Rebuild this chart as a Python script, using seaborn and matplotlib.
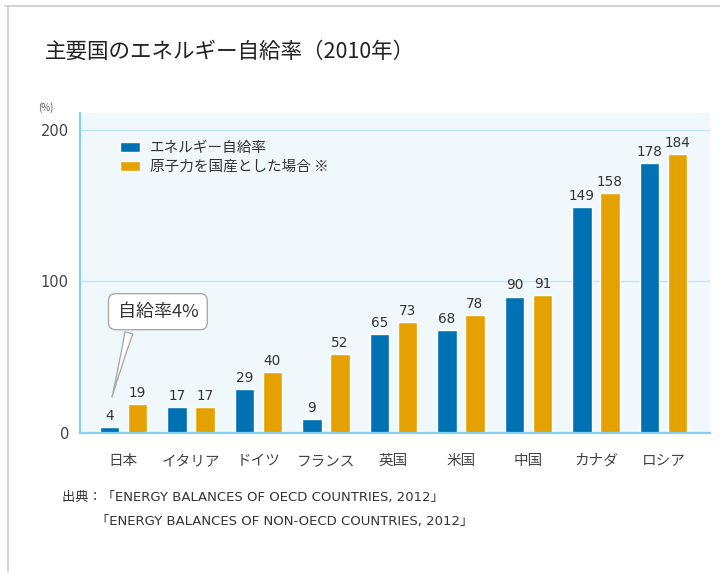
import matplotlib
matplotlib.use('Agg')
import matplotlib.pyplot as plt
import seaborn as sns
import pandas as pd
from matplotlib.lines import Line2D

# Données (2010)
countries = ['日本', 'イタリア', 'ドイツ', 'フランス', '英国', '米国', '中国', 'カナダ', 'ロシア']
self_rate = [4, 17, 29, 9, 65, 68, 90, 149, 178]
with_nuclear = [19, 17, 40, 52, 73, 78, 91, 158, 184]
series_names = ['エネルギー自給率', '原子力を国産とした場合 ※']
y_ticks = [0, 100, 200]

df = pd.DataFrame({'国': countries, series_names[0]: self_rate, series_names[1]: with_nuclear})
long_df = df.melt(id_vars='国', var_name='系列', value_name='値')

sns.set_theme(style='white')
plt.rcParams['font.family'] = ['Noto Sans CJK JP', 'DejaVu Sans']
num_font = ['DejaVu Sans', 'Noto Sans CJK JP']

blue = '#0071b2'
orange = '#e5a100'
grid_c = '#c4e7f7'
spine_c = '#86cfee'
text_c = '#333333'

fig = plt.figure(figsize=(7.2, 5.74), dpi=100)
ax = fig.add_axes([80 / 720, 1 - 433 / 574, 630 / 720, 320 / 574])

sns.barplot(data=long_df, x='国', y='値', hue='系列', order=countries,
            hue_order=series_names, palette=[blue, orange], width=0.83,
            gap=0.29, saturation=1, ax=ax, legend=True)

for cont in ax.containers:
    ax.bar_label(cont, padding=3, fontsize=9.8, color=text_c, family=num_font)

ax.set_facecolor('#f1f8fc')
ax.set_xlim(-0.644, 8.689)
ax.set_ylim(0, 211)
ax.set_yticks(y_ticks)
ax.set_yticklabels([str(v) for v in y_ticks], fontsize=10.5, color='#444444', family=num_font)
ax.tick_params(axis='y', length=0, pad=8)
ax.tick_params(axis='x', length=0, pad=15, labelsize=10.5, labelcolor='#444444')
ax.set_xlabel('')
ax.set_ylabel('')
for v in y_ticks[1:]:
    ax.axhline(v, color=grid_c, lw=1, zorder=0)
for s in ['top', 'right']:
    ax.spines[s].set_visible(False)
for s in ['left', 'bottom']:
    ax.spines[s].set_color(spine_c)
    ax.spines[s].set_linewidth(1.6)

ax.legend(loc='upper left', bbox_to_anchor=(120 / 720, 1 - 141 / 574),
          bbox_transform=fig.transFigure, frameon=False, fontsize=10.5,
          handlelength=1.35, handleheight=0.65, handletextpad=0.7,
          labelspacing=0.35, borderaxespad=0, borderpad=0, labelcolor=text_c)

# 吹き出し
ax.annotate('自給率4%', xy=(-0.18, 22), xytext=(0.51, 80),
            ha='center', va='center', fontsize=13, color=text_c,
            bbox=dict(boxstyle='round,pad=0.5,rounding_size=0.4', fc='white', ec='#aaaaaa', lw=1),
            arrowprops=dict(arrowstyle='wedge,tail_width=0.45,shrink_factor=0.4',
                            fc='white', ec='#aaaaaa', lw=1, relpos=(0.18, 0)))

fig.text(45 / 720, 1 - 52 / 574, '主要国のエネルギー自給率（2010年）', fontsize=15.5,
         color='#222222', va='center', ha='left')
fig.text(38 / 720, 1 - 108 / 574, '(%)', fontsize=7, color='#555555', va='center')
fig.text(62 / 720, 1 - 497 / 574, '出典：「ENERGY BALANCES OF OECD COUNTRIES, 2012」',
         fontsize=9.5, color=text_c, va='center', family=num_font)
fig.text(96 / 720, 1 - 522 / 574, '「ENERGY BALANCES OF NON-OECD COUNTRIES, 2012」',
         fontsize=9.5, color=text_c, va='center', family=num_font)

# 外枠
fig.add_artist(Line2D([8 / 720, 8 / 720], [0.005, 1 - 6 / 574], color='#cccccc', lw=1.2,
                      transform=fig.transFigure))
fig.add_artist(Line2D([5 / 720, 1], [1 - 6 / 574, 1 - 6 / 574], color='#cccccc', lw=1.2,
                      transform=fig.transFigure))

fig.savefig('out.png', dpi=100)
